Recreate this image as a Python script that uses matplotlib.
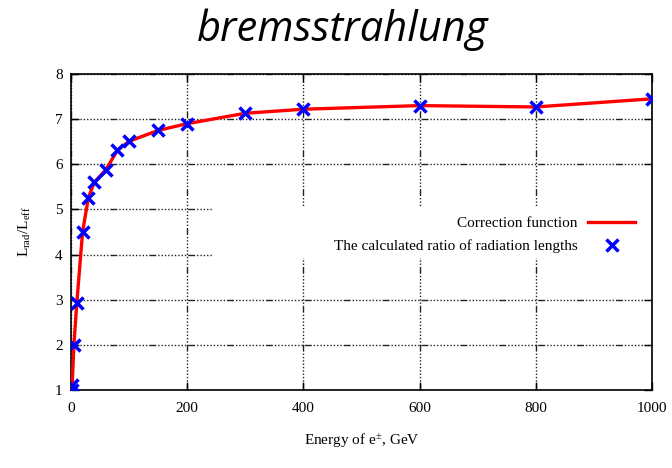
import matplotlib
matplotlib.use("Agg")
import matplotlib.pyplot as plt
from matplotlib.patches import Rectangle

energy = [1, 2, 5, 10, 20, 30, 40, 60, 80, 100, 150, 200, 300, 400, 600, 800, 1000]
ratio = [1.0, 1.1, 2.0, 2.93, 4.51, 5.26, 5.6, 5.88, 6.31, 6.51, 6.75, 6.9, 7.13, 7.22, 7.3, 7.27, 7.45]
xticks = [0, 200, 400, 600, 800, 1000]
yticks = [1, 2, 3, 4, 5, 6, 7, 8]

plt.rcParams['font.family'] = ['Liberation Serif']
plt.rcParams['mathtext.fontset'] = 'custom'
plt.rcParams['mathtext.rm'] = 'Liberation Serif'
plt.rcParams['mathtext.it'] = 'Liberation Serif:italic'

fig = plt.figure(figsize=(6.72, 4.68), dpi=100)
ax = fig.add_axes([71/672, 1-390/468, (652-71)/672, (390-74)/468])

ax.set_xlim(0, 1000)
ax.set_ylim(1, 8)
ax.set_xticks(xticks)
ax.set_yticks(yticks)
ax.tick_params(direction='in', top=True, right=True, length=6, width=1, labelsize=11)
ax.tick_params(axis='x', pad=9)
ax.tick_params(axis='y', pad=6)
for s in ax.spines.values():
    s.set_linewidth(1.2)

ax.set_axisbelow(True)
dots = []
for _ in range(9):
    dots += [1, 1.4]
ax.grid(True, color='#222222', linewidth=1.0, linestyle=(0, tuple([5, 1.4] + dots)))

ax.add_patch(Rectangle((245, 3.93), 755, 1.12, facecolor='white', edgecolor='none', zorder=1))

ax.plot(energy, ratio, color='red', lw=2.4, zorder=3, label='Correction function')
ax.plot(energy, ratio, linestyle='none', marker='x', color='blue', markersize=9, mew=2.5,
        zorder=4, label='The calculated ratio of radiation lengths')

ax.legend(loc='center right', bbox_to_anchor=(643/672, 1-235/468), bbox_transform=fig.transFigure,
          frameon=False, markerfirst=False, alignment='right', fontsize=11,
          handlelength=3.1, labelspacing=0.6, handletextpad=0.7, borderpad=0)

ax.set_xlabel('Energy of e$^{\\pm}$, GeV', fontsize=11, labelpad=12)
fig.text(25/672, 1-232/468, 'L$_{\\rm rad}$/L$_{\\rm eff}$', rotation=90, ha='center', va='center', fontsize=11)

fig.text(343/672, 1-30/468, 'bremsstrahlung', ha='center', va='center', fontsize=30,
         family='Open Sans', style='italic')

fig.savefig('out.png', dpi=100)
